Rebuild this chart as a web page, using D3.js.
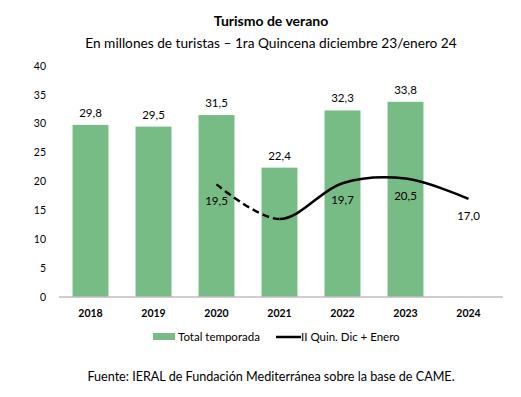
<!DOCTYPE html>
<html>
<head>
<meta charset="utf-8">
<script src="https://cdn.jsdelivr.net/npm/d3@7"></script>
<style>
  body { margin: 0; background: #fff; }
  text { font-family: Lato, "Open Sans", sans-serif; fill: #000; }
</style>
</head>
<body>
<svg id="chart" width="521" height="397"></svg>
<script>
var years = ["2018", "2019", "2020", "2021", "2022", "2023", "2024"];
var totalTemporada = [29.8, 29.5, 31.5, 22.4, 32.3, 33.8, null];
var quinYears = ["2020", "2021", "2022", "2023", "2024"];
var quinValues = [19.5, 13.5, 19.7, 20.5, 17.0];
var quinLabels = ["19,5", "", "19,7", "20,5", "17,0"];
var yTicks = [0, 5, 10, 15, 20, 25, 30, 35, 40];

var svg = d3.select("#chart"),
    margin = {top: 66, right: 20, bottom: 100, left: 59},
    width = 500 - margin.left,
    height = 297 - margin.top;

var fmt = function(v) { return d3.format(".1f")(v).replace(".", ","); };

var x = d3.scaleBand().domain(years).range([0, width]).paddingInner(0.43).paddingOuter(0.215);
var y = d3.scaleLinear().domain([0, 40]).range([height, 0]);

var g = svg.append("g")
    .attr("transform", "translate(" + margin.left + "," + margin.top + ")");

// titles
svg.append("text").attr("x", 271).attr("y", 26).attr("text-anchor", "middle")
  .style("font-size", "14px").style("font-weight", "bold").text("Turismo de verano");
svg.append("text").attr("x", 271).attr("y", 48).attr("text-anchor", "middle")
  .style("font-size", "13.7px").text("En millones de turistas \u2013 1ra Quincena diciembre 23/enero 24");

// y axis labels (no line)
g.selectAll(".ytick").data(yTicks).enter().append("text")
  .attr("x", -13).attr("y", function(d) { return y(d); }).attr("dy", "0.35em")
  .attr("text-anchor", "end").style("font-size", "10.5px")
  .text(function(d) { return d; });

// bars
var barData = years.map(function(k, i) { return {key: k, value: totalTemporada[i]}; })
  .filter(function(d) { return d.value != null; });

g.selectAll(".bar").data(barData).enter().append("rect")
  .attr("class", "bar")
  .attr("x", function(d) { return x(d.key); })
  .attr("width", x.bandwidth())
  .attr("y", function(d) { return y(d.value); })
  .attr("height", function(d) { return height - y(d.value); })
  .style("fill", "#77bc85");

g.selectAll(".barlab").data(barData).enter().append("text")
  .attr("x", function(d) { return x(d.key) + x.bandwidth() / 2; })
  .attr("y", function(d) { return y(d.value) - 8; })
  .attr("text-anchor", "middle").style("font-size", "11.5px")
  .text(function(d) { return fmt(d.value); });

// x axis
g.append("line").attr("x1", 0).attr("x2", width + 3).attr("y1", height).attr("y2", height)
  .style("stroke", "#bfbfbf").style("stroke-width", 1.3);
g.selectAll(".xtick").data(years).enter().append("text")
  .attr("x", function(d) { return x(d) + x.bandwidth() / 2; })
  .attr("y", height + 20).attr("text-anchor", "middle")
  .style("font-size", "10.5px").style("font-weight", "bold")
  .text(function(d) { return d; });

// line, dashed before 2021, solid after
var lineData = quinYears.map(function(k, i) { return {key: k, value: quinValues[i], label: quinLabels[i]}; });
var cx = function(d) { return x(d.key) + x.bandwidth() / 2; };
var line = d3.line().x(cx).y(function(d) { return y(d.value); }).curve(d3.curveCatmullRom.alpha(0.5));
var splitX = x("2021") + x.bandwidth() / 2;

var defs = svg.append("defs");
defs.append("clipPath").attr("id", "clipL").append("rect")
  .attr("x", -10).attr("y", -50).attr("width", splitX + 10).attr("height", height + 100);
defs.append("clipPath").attr("id", "clipR").append("rect")
  .attr("x", splitX).attr("y", -50).attr("width", width).attr("height", height + 100);

g.append("path").datum(lineData).attr("d", line).attr("clip-path", "url(#clipL)")
  .style("fill", "none").style("stroke", "#000").style("stroke-width", 2.5)
  .style("stroke-dasharray", "7,4");
g.append("path").datum(lineData).attr("d", line).attr("clip-path", "url(#clipR)")
  .style("fill", "none").style("stroke", "#000").style("stroke-width", 2.5);

g.selectAll(".linelab").data(lineData).enter().append("text")
  .attr("x", cx)
  .attr("y", function(d) { return y(d.value) + 21; })
  .attr("text-anchor", "middle").style("font-size", "11.5px")
  .text(function(d) { return d.label; });

// legend
var lg = svg.append("g").attr("transform", "translate(0,337)");
lg.append("rect").attr("x", 153).attr("y", -4).attr("width", 22).attr("height", 7).style("fill", "#77bc85");
lg.append("text").attr("x", 178).attr("y", 0).attr("dy", "0.35em").style("font-size", "11.5px").text("Total temporada");
lg.append("line").attr("x1", 276).attr("x2", 301).attr("y1", 0).attr("y2", 0)
  .style("stroke", "#000").style("stroke-width", 2.5);
lg.append("text").attr("x", 301).attr("y", 0).attr("dy", "0.35em").style("font-size", "11.5px").text("II Quin. Dic + Enero");

// footer
svg.append("text").attr("x", 271).attr("y", 381).attr("text-anchor", "middle")
  .style("font-size", "12.6px").text("Fuente: IERAL de Fundaci\u00f3n Mediterr\u00e1nea sobre la base de CAME.");
</script>
</body>
</html>
